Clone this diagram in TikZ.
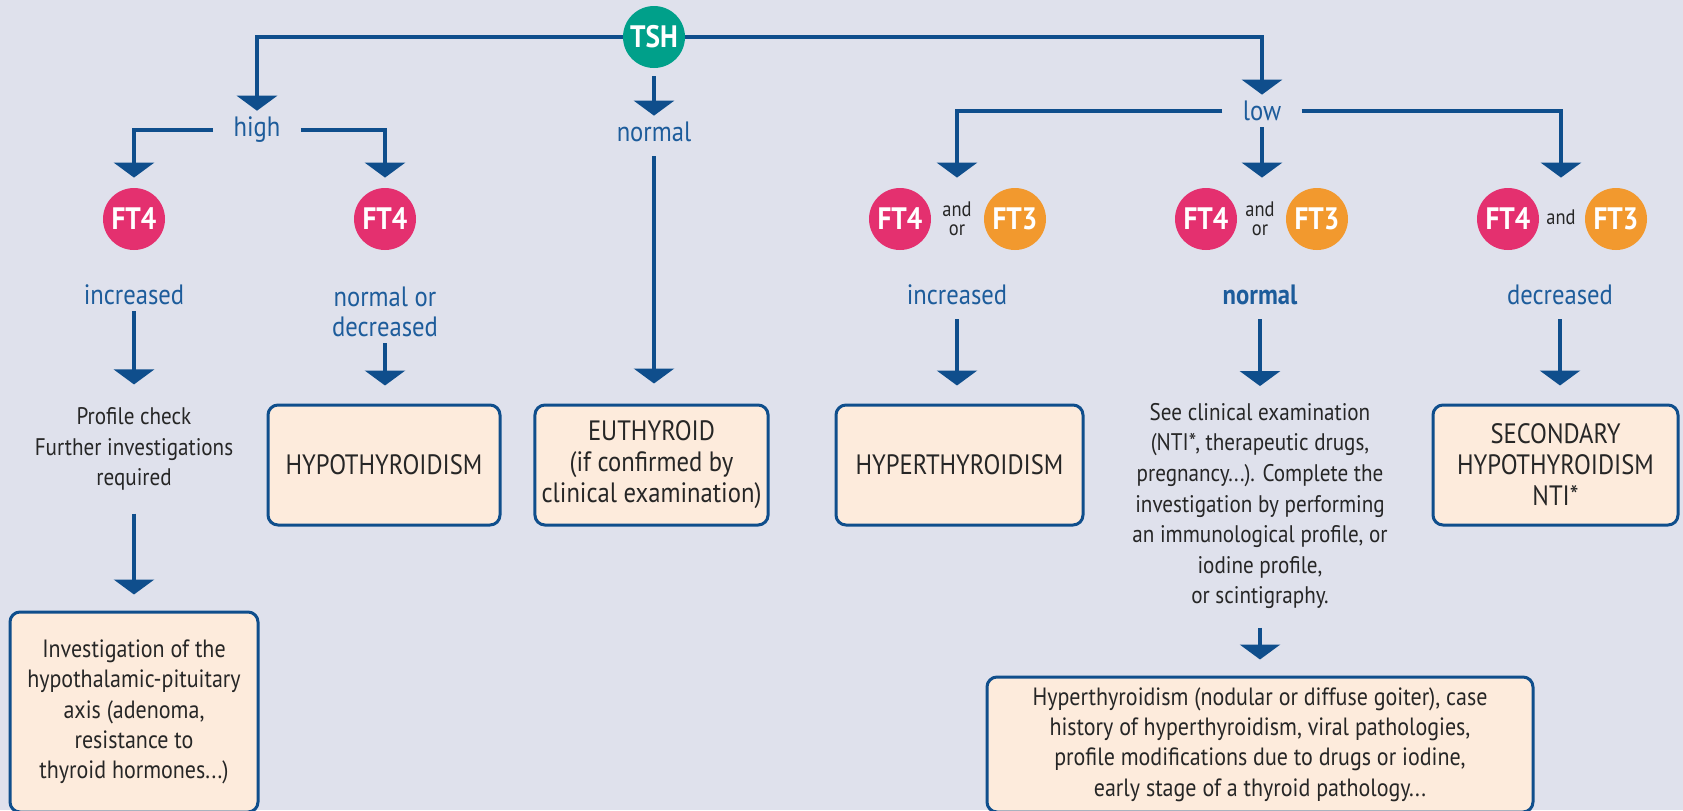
\documentclass[tikz,border=0pt]{standalone}
\usepackage{fontspec}
\setmainfont{PT Sans}[FakeStretch=0.88]
\usetikzlibrary{arrows.meta,positioning}

\definecolor{bgcol}{HTML}{DFE1EC}
\definecolor{linecol}{HTML}{0F4E8C}
\definecolor{labcol}{HTML}{1D5C9B}
\definecolor{boxfill}{HTML}{FDEBDC}
\definecolor{txtcol}{HTML}{262626}
\definecolor{tshcol}{HTML}{00A08A}
\definecolor{ftfour}{HTML}{E4306F}
\definecolor{ftthree}{HTML}{F2992E}

\begin{document}
\begin{tikzpicture}[x=0.5pt,y=-0.5pt,
                    flow/.style={-{Triangle[width=20pt,length=7.5pt]},line width=1.7pt,draw=linecol},
                    link/.style={line width=1.7pt,draw=linecol}]
  \tikzstyle{level}=[text=labcol,font=\fontsize{14}{15}\selectfont,align=center,inner xsep=10pt,inner ysep=3pt]
  \tikzstyle{result}=[draw=linecol,line width=1.5pt,fill=boxfill,rounded corners=5pt,text=txtcol,align=center,
                      minimum height=60pt,font=\fontsize{14}{15.5}\selectfont]
  \tikzstyle{note}=[text=txtcol,align=center,font=\fontsize{12}{15.3}\selectfont]
  \tikzstyle{test}=[circle,minimum size=31pt,inner sep=0pt,text=white,font=\fontsize{15.5}{15}\bfseries\selectfont]
  \tikzstyle{conj}=[text=txtcol,align=center,font=\fontsize{10.5}{9.5}\selectfont,inner sep=1pt]

  \useasboundingbox (0,0) rectangle (1683,810);
  \clip (0,0) rectangle (1683,810);
  \fill[bgcol] (0,0) rectangle (1683,810);

  \node[test,fill=tshcol]   (tsh)  at (654,37)  {TSH};

  \node[level] (high)   at (257,130) {high};
  \node[level] (normal) at (654,132) {normal};
  \node[level] (low)    at (1262,111) {low};

  \node[test,fill=ftfour]  (ft4a) at (134,219) {FT4};
  \node[test,fill=ftfour]  (ft4b) at (385,219) {FT4};
  \node[test,fill=ftfour]  (ft4c) at (900,219) {FT4};
  \node[conj]              (conjc) at (957,219) {and\\or};
  \node[test,fill=ftthree] (ft3c) at (1015,219) {FT3};
  \node[test,fill=ftfour]  (ft4d) at (1206,219) {FT4};
  \node[conj]              (conjd) at (1260,219) {and\\or};
  \node[test,fill=ftthree] (ft3d) at (1317,219) {FT3};
  \node[test,fill=ftfour]  (ft4e) at (1508,219) {FT4};
  \node[conj]              (conje) at (1561,217) {and};
  \node[test,fill=ftthree] (ft3e) at (1616,219) {FT3};

  \node[level] (inca)  at (134,295)  {increased};
  \node[level] (decb)  at (385,312)  {normal or\\decreased};
  \node[level] (incc)  at (957,295)  {increased};
  \node[level,font=\fontsize{14}{15}\bfseries\selectfont] (normd) at (1260,295) {normal};
  \node[level] (dece)  at (1560,295) {decreased};

  \node[note] (check) at (134,449) {Profile check\\Further investigations\\required};
  \node[note] (seed)  at (1260,506) {See clinical examination\\(NTI*, therapeutic drugs,\\pregnancy...). Complete the\\investigation by performing\\an immunological profile, or\\iodine profile,\\or scintigraphy.};

  \node[result,minimum width=116pt] (hypo)   at (384,465)    {HYPOTHYROIDISM};
  \node[result,minimum width=116.5pt] (euth) at (651.5,465)  {EUTHYROID\\(if confirmed by\\clinical examination)};
  \node[result,minimum width=123.5pt] (hyper) at (959.5,465) {HYPERTHYROIDISM};
  \node[result,minimum width=122.5pt] (second) at (1555.5,465) {SECONDARY\\HYPOTHYROIDISM\\NTI*};
  \node[result,minimum width=124pt,minimum height=100pt,font=\fontsize{12.5}{15.2}\selectfont] (invest) at (134,712)
       {Investigation of the\\hypothalamic-pituitary\\axis (adenoma,\\resistance to\\thyroid hormones...)};
  \node[result,minimum width=273pt,minimum height=67.5pt,font=\fontsize{12.5}{15.2}\selectfont] (hist) at (1260,744.5)
       {Hyperthyroidism (nodular or diffuse goiter), case\\history of hyperthyroidism, viral pathologies,\\profile modifications due to drugs or iodine,\\early stage of a thyroid pathology...};

  \draw[flow] (tsh.west) -| (high.north);
  \draw[flow] (tsh.east) -| (low.north);
  \draw[flow,shorten <=4pt] (tsh.south) -- (normal.north);

  \draw[flow,shorten >=5pt] (high.west) -| (ft4a.north);
  \draw[flow,shorten >=5pt] (high.east) -| (ft4b.north);
  \draw[flow,shorten >=5pt] (low.west) -| (ft4c.north -| conjc.north);
  \draw[flow,shorten >=5pt] (low.south) -- (low |- ft4d.north);
  \draw[flow,shorten >=5pt] (low.east) -| (conje.north |- ft4e.north);

  \draw[flow,shorten >=8pt] (inca) -- (check);
  \draw[flow,shorten >=9pt] (decb) -- (decb |- hypo.north);
  \draw[flow,shorten <=4pt,shorten >=10pt] (normal) -- (normal |- euth.north);
  \draw[flow,shorten <=4pt,shorten >=9pt] (incc) -- (incc |- hyper.north);
  \draw[flow,shorten <=4pt,shorten >=5pt] (normd) -- (seed);
  \draw[flow,shorten <=4pt,shorten >=9pt] (dece) -- (dece |- second.north);
  \draw[flow,shorten <=8pt,shorten >=8pt] (check) -- (check |- invest.north);
  \draw[flow,shorten <=6pt,shorten >=8pt] (seed) -- (seed |- hist.north);
\end{tikzpicture}
\end{document}
